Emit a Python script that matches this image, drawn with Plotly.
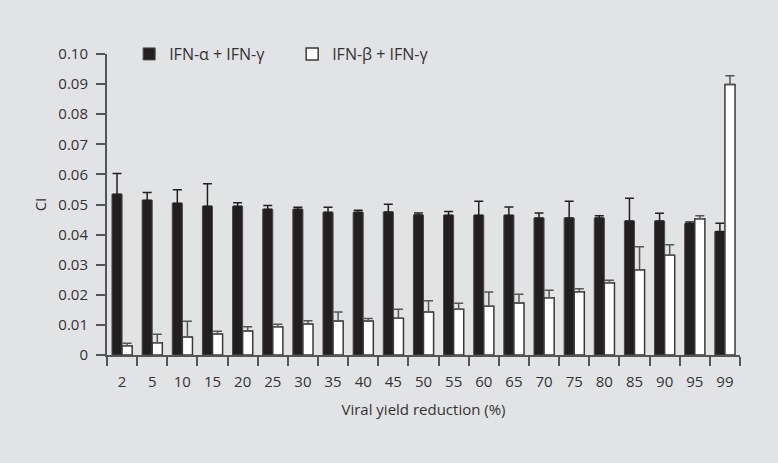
import plotly.graph_objects as go

categories = ["2", "5", "10", "15", "20", "25", "30", "35", "40", "45", "50",
              "55", "60", "65", "70", "75", "80", "85", "90", "95", "99"]

alpha_gamma = [0.0534, 0.0514, 0.0504, 0.0494, 0.0494, 0.0484, 0.0484, 0.0474,
               0.0474, 0.0475, 0.0465, 0.0464, 0.0464, 0.0464, 0.0455, 0.0455,
               0.0455, 0.0445, 0.0445, 0.0436, 0.0410]
alpha_gamma_err = [0.0069, 0.0026, 0.0045, 0.0075, 0.0012, 0.0013, 0.0007, 0.0017,
                   0.0007, 0.0026, 0.0007, 0.0013, 0.0047, 0.0028, 0.0017, 0.0056,
                   0.0008, 0.0076, 0.0026, 0.0006, 0.0028]

beta_gamma = [0.0031, 0.0041, 0.0060, 0.0070, 0.0080, 0.0094, 0.0103, 0.0113,
              0.0113, 0.0122, 0.0143, 0.0152, 0.0162, 0.0173, 0.0190, 0.0210,
              0.0240, 0.0283, 0.0331, 0.0453, 0.0899]
beta_gamma_err = [0.0008, 0.0028, 0.0052, 0.0009, 0.0014, 0.0008, 0.0011, 0.0030,
                  0.0008, 0.0030, 0.0037, 0.0020, 0.0047, 0.0029, 0.0025, 0.0010,
                  0.0008, 0.0077, 0.0035, 0.0010, 0.0029]

y_ticks = [0, 0.01, 0.02, 0.03, 0.04, 0.05, 0.06, 0.07, 0.08, 0.09, 0.10]
y_tick_labels = ["0", "0.01", "0.02", "0.03", "0.04", "0.05", "0.06", "0.07",
                 "0.08", "0.09", "0.10"]

BG = "#e2e3e4"
INK = "#333333"
FONT = "Open Sans"
FS = 15

fig = go.Figure()
fig.add_trace(go.Bar(
    name="IFN-\u03b1 + IFN-\u03b3",
    x=categories, y=alpha_gamma,
    marker=dict(color="#231f20", line=dict(color="#4a4a4a", width=1)),
    error_y=dict(type="data", symmetric=False, array=alpha_gamma_err,
                 arrayminus=[0] * len(categories), color="#231f20",
                 thickness=1.5, width=4.5),
))
fig.add_trace(go.Bar(
    name="IFN-\u03b2 + IFN-\u03b3",
    x=categories, y=beta_gamma,
    marker=dict(color="#ffffff", line=dict(color="#3a3a3a", width=1.5)),
    error_y=dict(type="data", symmetric=False, array=beta_gamma_err,
                 arrayminus=[0] * len(categories), color="#555555",
                 thickness=1.5, width=4.5),
))

fig.update_layout(
    width=778, height=463,
    paper_bgcolor=BG, plot_bgcolor=BG,
    margin=dict(l=107, r=38, t=54, b=108, autoexpand=False),
    barmode="group", bargap=0.33, bargroupgap=0,
    font=dict(family=FONT, size=FS, color=INK),
    showlegend=True,
    legend=dict(orientation="h", x=0.035, y=1.0, xanchor="left", yanchor="middle",
                bgcolor="rgba(0,0,0,0)", font=dict(family=FONT, size=16, color=INK),
                traceorder="normal", entrywidth=118),
    xaxis=dict(
        type="category", title=dict(text="Viral yield reduction (%)", standoff=14,
                                    font=dict(size=FS, color=INK)),
        showline=True, linecolor="#555555", linewidth=2,
        ticks="outside", tickson="boundaries", ticklen=9, tickwidth=1.5,
        tickcolor="#555555", showgrid=False, zeroline=False,
        ticklabelstandoff=12,
        tickfont=dict(size=FS, color=INK),
    ),
    yaxis=dict(
        title=dict(text="CI", standoff=8, font=dict(size=FS, color=INK)),
        range=[0, 0.10], tickvals=y_ticks, ticktext=y_tick_labels,
        showline=True, linecolor="#555555", linewidth=2,
        ticks="outside", ticklen=9, tickwidth=1.5, tickcolor="#555555",
        ticklabelstandoff=5,
        showgrid=False, zeroline=False, tickfont=dict(size=FS, color=INK),
    ),
)

fig.write_html("out.html", config={"displayModeBar": False},
               post_script="document.body.style.margin='0';")
